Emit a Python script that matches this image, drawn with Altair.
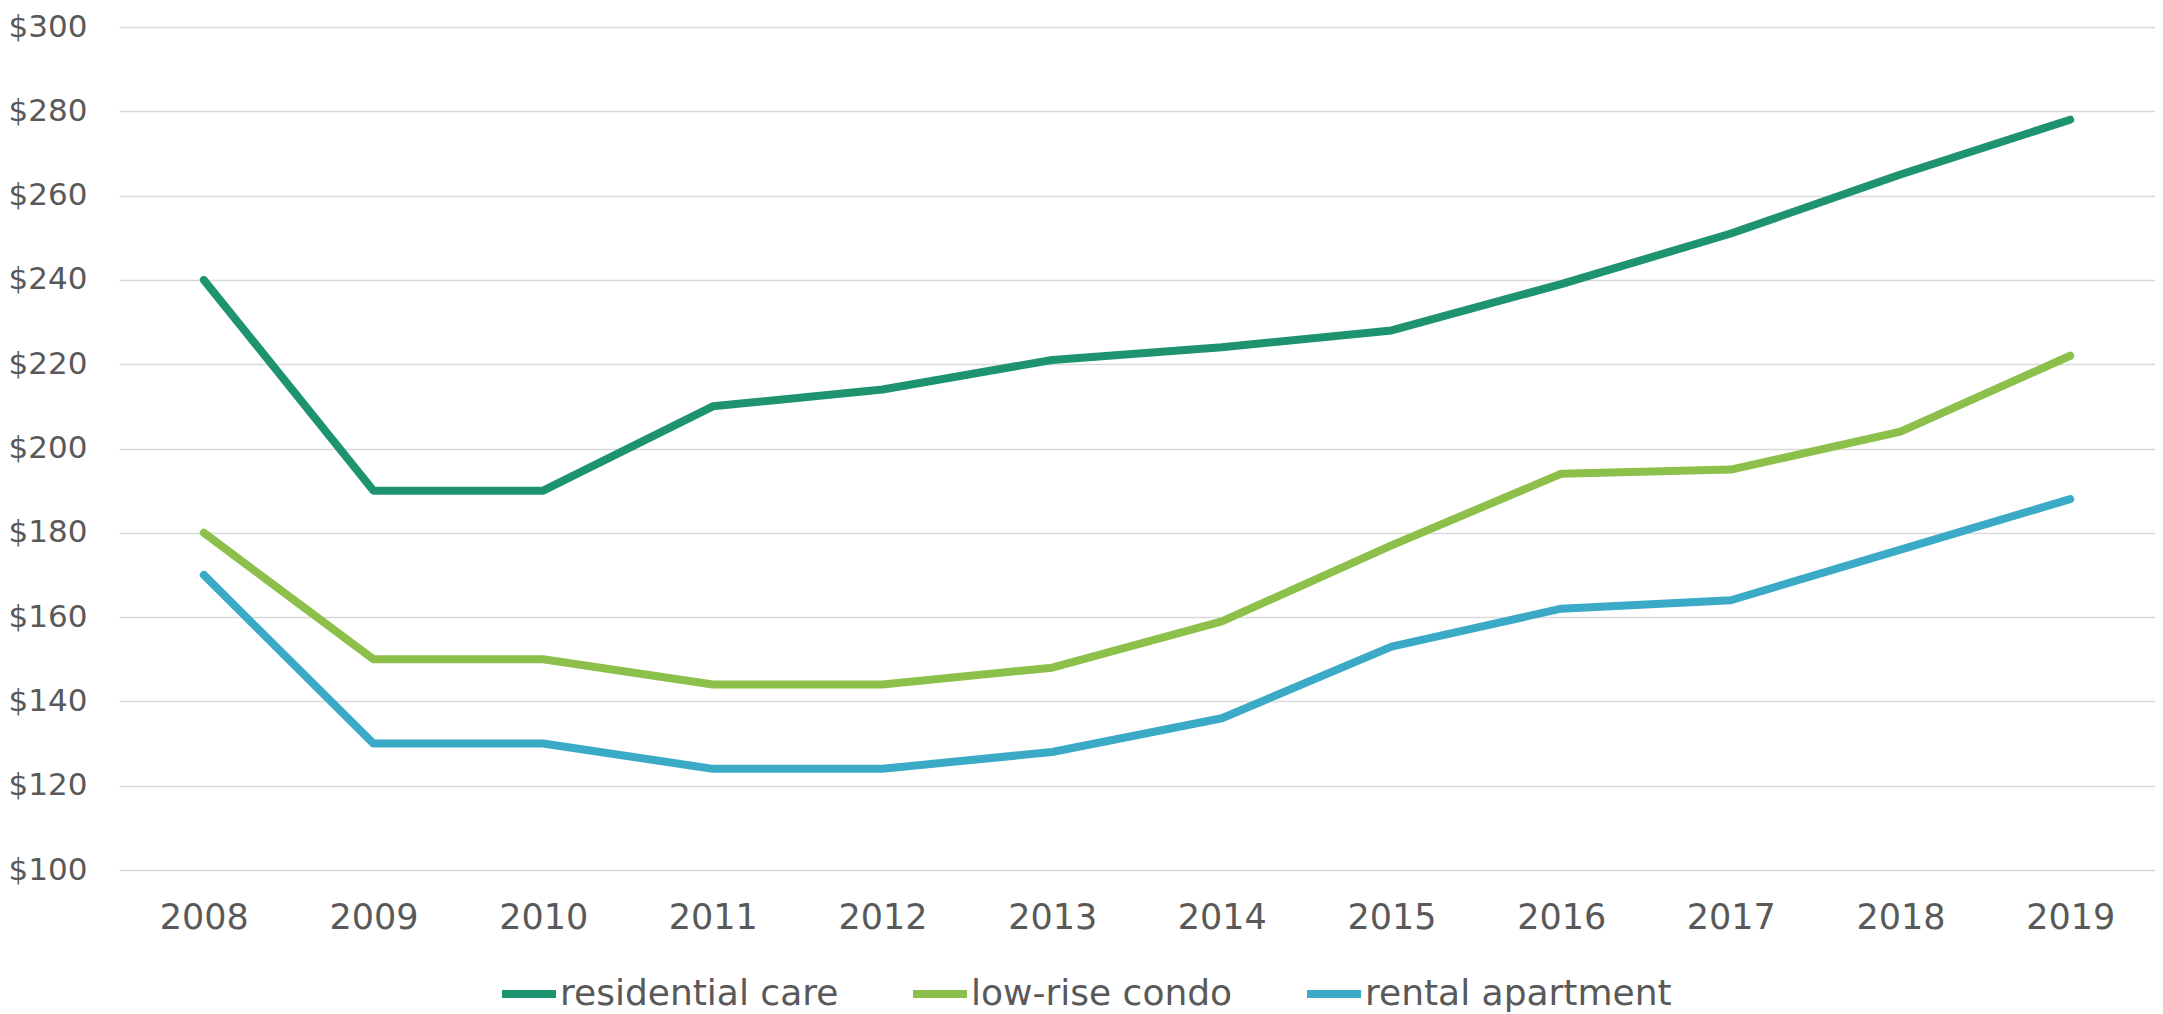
import altair as alt
import pandas as pd

years = ["2008", "2009", "2010", "2011", "2012", "2013", "2014", "2015", "2016", "2017", "2018", "2019"]
series_names = ["residential care", "low-rise condo", "rental apartment"]
residential_care = [240, 190, 190, 210, 214, 221, 224, 228, 239, 251, 265, 278]
low_rise_condo = [180, 150, 150, 144, 144, 148, 159, 177, 194, 195, 204, 222]
rental_apartment = [170, 130, 130, 124, 124, 128, 136, 153, 162, 164, 176, 188]
colors = ["#1E9370", "#8CC04B", "#3AAAC6"]
y_ticks = [100, 120, 140, 160, 180, 200, 220, 240, 260, 280, 300]

rows = []
for name, vals in zip(series_names, [residential_care, low_rise_condo, rental_apartment]):
    for y, v in zip(years, vals):
        rows.append({"year": y, "value": v, "series": name})
df = pd.DataFrame(rows)

FONT = "DejaVu Sans"
TXT = "#595959"

chart = alt.Chart(df).mark_line(
    strokeWidth=8, strokeCap="round", strokeJoin="round"
).encode(
    x=alt.X(
        "year:O",
        sort=years,
        scale=alt.Scale(type="point", padding=0.5),
        axis=alt.Axis(
            title=None, labelAngle=0, labelFontSize=35, labelColor=TXT,
            labelFont=FONT, labelPadding=30, ticks=False, domain=False, grid=False,
        ),
    ),
    y=alt.Y(
        "value:Q",
        scale=alt.Scale(domain=[100, 300], nice=False, zero=False),
        axis=alt.Axis(
            title=None, values=y_ticks, labelExpr="'$' + datum.value",
            labelFontSize=31, labelColor=TXT, labelFont=FONT, labelPadding=32,
            ticks=False, domain=False, grid=True, gridColor="#D9D9D9", gridWidth=1.5,
        ),
    ),
    color=alt.Color(
        "series:N",
        sort=series_names,
        scale=alt.Scale(domain=series_names, range=colors),
        legend=alt.Legend(
            title=None, orient="none", legendX=379, legendY=936,
            direction="horizontal", symbolType="stroke", symbolSize=2916,
            symbolStrokeWidth=8, labelFontSize=36, labelFont=FONT, labelColor=TXT,
            labelOffset=0, columnPadding=58, padding=0, labelLimit=0,
        ),
    ),
).properties(
    width=2036, height=843, padding={"top": 3, "left": 0, "right": 0, "bottom": 0}
).configure_view(stroke=None)

chart.save("out.html", embed_options={"renderer": "svg", "actions": False})
